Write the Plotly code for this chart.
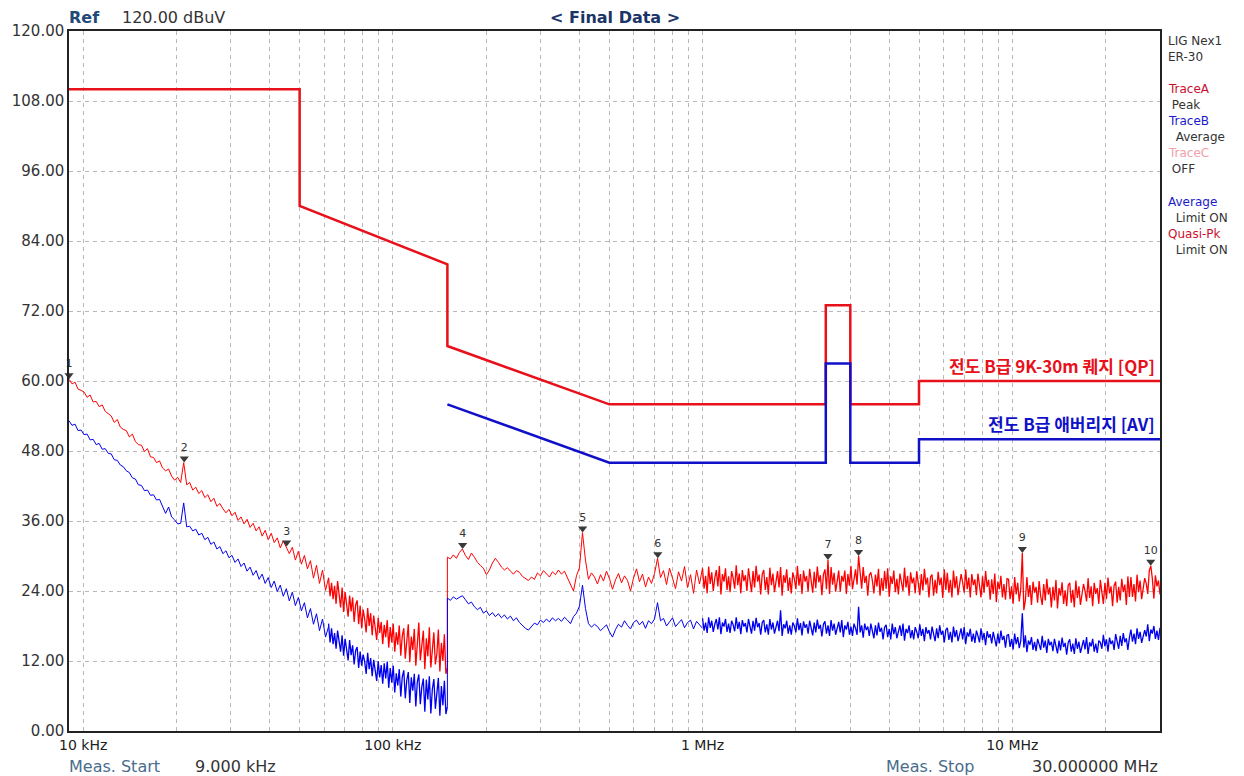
import numpy as np
import plotly.graph_objects as go

# ---------------- data ----------------
# Four sweep segments (band edges in Hz); each trace's readings are listed per segment.
band_edges = [9e3, 62e3, 150e3, 1e6, 30e6]

# Peak trace (TraceA), dBuV
peak_1 = [60.3,59.5,59.8,58.6,58.4,58.1,57.2,57.6,56.4,56.5,
 55.6,55.9,54.8,54.4,54.0,52.9,53.4,52.1,51.7,51.5,
 50.4,50.9,49.6,49.1,49.0,47.9,48.4,47.0,46.9,46.0,
 46.3,45.1,44.6,44.9,43.7,43.0,43.5,42.6,46.0,42.2,
 42.6,41.3,41.8,40.7,41.2,40.0,40.5,39.3,39.9,38.5,
 39.0,38.1,37.4,38.0,36.9,37.5,36.1,36.7,35.5,36.3,
 34.9,35.6,34.3,35.0,33.4,34.4,32.8,33.9,32.3,33.1,
 31.4,32.6,31.6,30.4,31.5,29.3,30.8,28.6,30.1,27.8,
 29.2,26.2,28.4,25.3,27.6,24.1,26.3]
peak_2 = [26.2,23.1,25.4,22.6,24.9,21.8,25.7,23.4,21.2,24.6,
 20.4,23.8,22.1,19.6,23.2,20.5,22.9,18.7,21.6,22.4,
 18.3,21.5,17.6,20.8,19.2,16.9,21.1,18.0,20.2,16.4,
 19.8,17.2,15.6,19.4,16.8,18.7,14.9,18.2,16.1,19.0,
 14.3,17.8,15.2,18.4,13.6,16.9,14.8,18.1,12.9,16.3,
 17.6,12.4,15.8,18.3,11.8,16.2,13.9,17.5,11.2,15.4,
 18.6,12.1,14.7,17.2,10.6,15.9,12.8,17.8,10.9,14.6,
 16.9,11.4,13.2,17.4,10.2,15.1,12.0,16.6,9.8,10.8]
peak_3 = [29.8,29.5,30.2,29.6,30.6,31.2,30.1,29.4,30.5,29.8,
 28.9,28.4,27.9,26.8,27.6,28.8,29.6,28.9,28.1,27.6,
 28.0,27.4,26.9,27.5,27.2,26.5,26.1,25.8,26.4,26.0,
 27.1,26.6,27.5,27.0,26.4,27.3,26.8,27.6,26.9,27.4,
 26.3,25.2,24.0,26.6,28.0,34.0,29.3,26.0,27.1,26.4,
 25.2,26.8,25.7,27.4,26.1,24.3,25.9,27.0,25.4,26.6,
 25.8,24.0,26.2,27.8,25.6,26.9,24.7,26.4,25.3,27.0,
 29.6,26.3,27.5,25.1,27.9,26.2,24.4,27.3,25.7,28.2,
 24.6,26.8,23.6,27.6,25.2,28.0]
peak_4 = [27.8,24.4,26.6,23.6,28.2,25.2,27.2,24.0,26.2,27.6,
 24.8,28.3,23.4,26.9,25.6,27.9,24.2,26.5,23.8,27.4,
 26.2,24.4,28.4,25.0,27.0,23.6,27.6,25.7,26.7,24.0,
 27.9,25.3,23.8,27.4,24.6,28.3,25.6,26.8,23.4,26.9,
 27.6,24.2,26.4,23.4,28.0,25.0,27.0,23.8,26.0,27.4,
 24.6,28.1,23.2,26.7,25.4,27.7,24.0,26.3,23.6,27.2,
 26.1,24.3,28.3,24.9,26.9,23.5,27.5,25.6,26.6,23.9,
 27.8,25.2,23.7,27.3,24.5,28.2,25.5,26.7,23.3,26.8,
 27.7,24.3,29.3,23.5,28.1,25.1,27.1,23.9,26.1,27.5,
 23.9,26.6,25.6,27.5,23.5,26.9,24.9,28.3,24.3,26.1,
 27.7,25.1,30.0,27.2,24.4,28.1,25.4,26.6,23.2,26.7,
 27.2,25.8,23.6,26.8,24.8,27.8,23.2,26.2,24.0,27.4,
 24.4,27.9,23.0,26.5,25.2,27.5,23.8,26.1,23.4,27.0,
 25.8,24.0,28.0,24.6,26.6,23.2,27.2,25.3,26.3,23.6,
 27.4,24.8,23.3,26.9,24.1,27.8,25.1,26.3,22.9,26.4,
 26.8,23.2,25.9,23.6,27.3,25.0,26.3,22.8,27.7,24.2,
 27.1,23.7,25.9,22.9,27.5,24.5,26.5,23.3,25.5,26.9,
 25.5,23.7,27.7,24.3,26.3,22.9,26.9,25.0,26.0,23.3,
 27.0,24.4,22.9,26.5,23.7,27.4,24.7,25.9,22.5,26.0,
 23.5,27.0,22.1,25.6,24.3,26.6,22.9,25.2,22.5,26.1,
 26.0,22.6,24.8,21.8,26.4,23.4,25.4,22.2,24.4,30.5,
 20.7,22.4,26.4,23.0,25.0,21.6,25.6,23.7,24.7,22.0,
 25.7,23.1,21.6,25.2,22.4,26.1,23.4,24.6,21.2,24.7,
 22.4,25.9,21.0,24.5,23.2,25.5,21.8,24.1,21.4,25.0,
 25.4,22.0,24.2,21.2,25.8,22.8,24.8,21.6,23.8,25.2,
 24.0,22.2,26.2,22.8,24.8,21.4,25.4,23.5,24.5,21.8,
 25.9,23.3,21.8,25.4,22.6,26.3,23.6,24.8,21.4,24.9,
 25.6,22.0,24.7,22.4,26.1,23.8,25.1,21.6,26.5,23.0,
 26.4,23.0,25.2,22.2,26.8,23.8,25.8,22.6,24.8,26.2,
 25.3,23.5,27.5,28.3,26.1,22.7,26.7,24.8,25.8,23.4]

# Average trace (TraceB), dBuV
avg_1 = [53.2,52.4,52.6,51.5,51.6,50.8,50.9,49.9,50.0,49.1,
 49.3,48.3,48.4,47.6,47.5,46.5,46.4,45.6,45.3,44.6,
 44.3,43.4,43.2,42.2,42.1,41.2,41.3,40.4,40.5,39.6,
 39.7,38.6,37.3,38.4,36.7,36.2,35.5,35.6,39.1,35.0,
 35.1,34.3,34.6,33.6,33.9,32.8,33.2,32.0,32.4,31.2,
 31.6,30.4,30.9,29.7,30.1,28.9,29.5,28.2,28.8,27.4,
 28.1,26.7,27.5,26.0,26.9,25.3,26.3,24.6,25.7,23.9,
 25.0,23.1,24.4,22.3,23.8,21.5,22.9,20.6,22.0,19.4,
 21.0,18.3,20.1,17.2,19.2,16.1,17.9]
avg_2 = [18.4,15.2,17.6,14.9,16.8,14.1,17.2,15.5,13.6,16.4,
 12.9,15.8,14.2,12.1,15.6,13.0,14.7,11.4,13.8,14.4,
 10.8,13.6,11.2,13.1,11.9,9.8,13.4,10.6,12.5,9.4,
 12.2,9.9,8.6,12.0,9.2,11.3,8.1,11.6,9.0,11.9,
 7.4,10.8,8.3,11.2,6.6,9.9,7.8,10.6,5.9,9.3,
 10.4,5.6,8.7,10.1,4.8,9.2,6.9,9.8,4.2,8.4,
 9.7,4.6,7.6,9.0,3.3,8.8,5.4,9.4,3.0,7.2,
 8.9,3.8,6.3,9.1,2.6,7.7,4.4,8.6,2.9,4.2]
avg_3 = [22.8,22.4,23.0,22.6,22.9,23.2,22.5,21.8,22.1,21.3,
 20.8,21.2,20.2,20.6,19.8,20.3,19.6,20.1,19.4,19.9,
 19.2,19.7,18.9,19.4,18.6,18.1,17.6,17.3,17.9,18.5,
 18.2,19.0,18.6,19.2,18.7,19.4,18.9,19.3,18.8,19.5,
 19.0,18.4,19.6,20.2,21.4,25.0,21.0,18.4,17.8,18.3,
 17.9,17.2,17.7,18.2,17.0,16.1,17.4,18.3,17.8,18.9,
 18.1,17.5,18.6,19.0,18.2,18.8,17.6,18.9,18.4,19.2,
 22.0,18.9,19.3,18.0,18.7,19.4,17.9,18.5,19.1,17.7,
 18.6,19.0,17.5,18.8,18.2,17.6]
avg_4 = [19.3,17.2,18.6,16.8,19.5,17.7,18.9,17.0,18.3,19.2,
 17.4,19.5,16.6,18.6,17.9,19.2,17.0,18.4,16.8,18.9,
 18.2,17.1,19.5,17.5,18.7,16.6,19.0,17.9,18.5,16.9,
 19.2,17.6,16.7,18.9,17.2,19.4,17.8,18.5,16.5,18.6,
 19.0,16.9,18.3,16.5,19.2,17.4,18.6,16.7,18.0,18.9,
 17.1,20.7,16.3,18.3,17.6,18.9,16.7,18.1,16.5,18.6,
 18.0,16.9,19.3,17.3,18.5,16.4,18.8,17.7,18.3,16.7,
 18.9,17.3,16.4,18.6,16.9,19.1,17.5,18.2,16.2,18.3,
 18.8,16.7,18.1,16.3,19.0,17.2,18.4,16.5,17.8,18.7,
 16.9,19.0,16.1,18.1,17.4,18.7,16.5,17.9,16.3,18.4,
 17.6,16.5,21.3,16.9,18.1,16.0,18.4,17.3,17.9,16.3,
 18.4,16.8,15.9,18.1,16.4,18.6,17.0,17.7,15.7,17.8,
 18.2,16.1,17.5,15.7,18.4,16.6,17.8,15.9,17.2,18.1,
 16.3,18.4,15.5,17.5,16.8,18.1,15.9,17.3,15.7,17.8,
 17.0,15.9,18.3,16.3,17.5,15.4,17.8,16.7,17.3,15.7,
 17.9,16.3,15.4,17.6,15.9,18.1,16.5,17.2,15.2,17.3,
 17.7,15.6,17.0,15.2,17.9,16.1,17.3,15.4,16.7,17.6,
 15.7,17.8,14.9,16.9,16.2,17.5,15.3,16.7,15.1,17.2,
 16.3,15.2,17.6,15.6,16.8,14.7,17.1,16.0,16.6,15.0,
 17.0,15.4,14.5,16.7,15.0,17.2,15.6,16.3,14.3,16.4,
 16.5,14.4,15.8,14.0,16.7,14.9,16.1,14.2,15.5,20.2,
 14.3,16.4,13.5,15.5,14.8,16.1,13.9,15.3,13.7,15.8,
 15.0,13.9,16.3,14.3,15.5,13.4,15.8,14.7,15.3,13.7,
 15.8,14.2,13.3,15.5,13.8,16.0,14.4,15.1,13.1,15.2,
 15.7,13.6,15.0,13.2,15.9,14.1,15.3,13.4,14.7,15.6,
 14.0,16.1,13.2,15.2,14.5,15.8,13.6,15.0,13.4,15.5,
 15.2,14.1,16.5,14.5,15.7,13.6,16.0,14.9,15.5,13.9,
 16.6,15.0,14.1,16.3,14.6,16.8,15.2,15.9,13.9,16.0,
 17.4,15.3,16.7,14.9,17.6,15.8,17.0,15.1,16.4,17.3,
 16.2,18.3,15.4,17.4,16.7,18.0,15.8,17.2,15.6,17.7]

# limit lines (frequency in Hz, level in dBuV)
qp_freq = [9e3, 50e3, 50e3, 150e3, 150e3, 500e3, 2.5e6, 2.5e6, 3e6, 3e6, 5e6, 5e6, 30e6]
qp_level = [110, 110, 90, 80, 66, 56, 56, 73, 73, 56, 56, 60, 60]
av_freq = [150e3, 500e3, 2.5e6, 2.5e6, 3e6, 3e6, 5e6, 5e6, 30e6]
av_level = [56, 46, 46, 63, 63, 46, 46, 50, 50]

# markers
marker_freq = [9.0e3, 21.2e3, 45.4e3, 168e3, 410e3, 717e3, 2.54e6, 3.19e6, 10.78e6, 28.0e6]
marker_level = [60.3, 46.0, 31.6, 31.2, 34.0, 29.6, 29.3, 30.0, 30.5, 28.3]
marker_label = ["1", "2", "3", "4", "5", "6", "7", "8", "9", "10"]

y_ticks = [0, 12, 24, 36, 48, 60, 72, 84, 96, 108, 120]
x_major = [1e4, 1e5, 1e6, 1e7]
x_major_text = ["10 kHz", "100 kHz", "1 MHz", "10 MHz"]

# ---------------- figure ----------------
L, R, T, B = 69, 1160, 31, 731
W, H = 1244, 776
def px(x):
    return (x - L) / (R - L)
def py(y):
    return 1 - (y - T) / (B - T)

fig = go.Figure()
peak_segs = [peak_1, peak_2, peak_3, peak_4]
avg_segs = [avg_1, avg_2, avg_3, avg_4]
seg_width = [1.0, 1.3, 1.0, 1.3]
for segs, color in [(peak_segs, "#ff0000"), (avg_segs, "#0000f0")]:
    for k, vals in enumerate(segs):
        f = np.geomspace(band_edges[k], band_edges[k + 1], len(vals))
        if k == 2:  # connect the step at 150 kHz to the previous sweep
            f = np.concatenate([[band_edges[2]], f])
            vals = [segs[1][-1]] + vals
        fig.add_trace(go.Scatter(x=f, y=vals, mode="lines",
                                 line=dict(color=color, width=seg_width[k])))

fig.add_trace(go.Scatter(x=qp_freq, y=qp_level, mode="lines",
                         line=dict(color="#e8101a", width=2.5), name="QP limit"))
fig.add_trace(go.Scatter(x=av_freq, y=av_level, mode="lines",
                         line=dict(color="#1010c8", width=2.5), name="AV limit"))
fig.add_trace(go.Scatter(x=marker_freq, y=[v + 0.7 for v in marker_level], mode="markers",
                         marker=dict(symbol="triangle-down", size=8, color="#3a3a3a"),
                         cliponaxis=False, name="markers"))
fig.add_trace(go.Scatter(x=marker_freq, y=[v + 2.5 for v in marker_level], mode="text",
                         text=marker_label, textposition="middle center",
                         textfont=dict(family="DejaVu Sans", size=11, color="#333333"),
                         cliponaxis=False, name="marker labels"))

grid_vals = []
for dec in [1e4, 1e5, 1e6, 1e7]:
    for m in range(1, 10):
        v = dec * m
        if v <= 30e6:
            grid_vals.append(v)
grid_text = [x_major_text[x_major.index(v)] if v in x_major else "" for v in grid_vals]

fig.update_xaxes(type="log", range=[np.log10(9e3), np.log10(30e6)],
                 tickvals=grid_vals, ticktext=grid_text, ticks="",
                 showgrid=True, gridcolor="#b8b8b8", griddash="4px,4px", gridwidth=1,
                 showline=True, linecolor="#222222", linewidth=1.5, mirror=True,
                 zeroline=False,
                 tickfont=dict(family="DejaVu Sans", size=14, color="#222222"))
fig.update_yaxes(range=[0, 120], tickvals=y_ticks, tickformat=".2f", ticks="",
                 showgrid=True, gridcolor="#b8b8b8", griddash="4px,4px", gridwidth=1,
                 showline=True, linecolor="#222222", linewidth=1.5, mirror=True,
                 zeroline=False,
                 tickfont=dict(family="DejaVu Sans", size=15, color="#333333"))

ann = []
def txt(x, y, s, color="#333333", size=14, bold=False, xanchor="left", family="DejaVu Sans"):
    ann.append(dict(x=px(x), y=py(y), xref="paper", yref="paper", text=("<b>%s</b>" % s) if bold else s,
                    showarrow=False, xanchor=xanchor, yanchor="middle",
                    font=dict(family=family, size=size, color=color)))

txt(67, 18, "Ref", color="#1f4a78", size=16, bold=True)
txt(120, 18, "120.00 dBuV", color="#333333", size=16)
txt(615, 18, "&lt; Final Data &gt;", color="#1a3566", size=16, bold=True, xanchor="center")
txt(67, 766, "Meas. Start", color="#4a6d8c", size=16)
txt(193, 766, "9.000 kHz", color="#333333", size=16)
txt(884, 766, "Meas. Stop", color="#4a6d8c", size=16)
txt(1160, 766, "30.000000 MHz", color="#333333", size=16, xanchor="right")

panel = [("LIG Nex1", "#333333", 41), ("ER-30", "#333333", 57),
         ("TraceA", "#c8102e", 89), ("&nbsp;Peak", "#333333", 105),
         ("TraceB", "#1a1acc", 121), ("&nbsp;&nbsp;Average", "#333333", 137),
         ("TraceC", "#f0a0a8", 153), ("&nbsp;OFF", "#333333", 169),
         ("Average", "#1a1acc", 202), ("&nbsp;&nbsp;Limit ON", "#333333", 218),
         ("Quasi-Pk", "#c8102e", 234), ("&nbsp;&nbsp;Limit ON", "#333333", 250)]
for s, c, y in panel:
    txt(1166, y, s, color=c, size=12)

ann.append(dict(x=np.log10(30e6), y=qp_level[-1], xref="x", yref="y", text="<b>전도 B급 9K-30m 퀘지 [QP]</b>",
                showarrow=False, xanchor="right", yanchor="bottom", yshift=1, xshift=-3,
                font=dict(family="Noto Sans CJK KR", size=17, color="#e8101a")))
ann.append(dict(x=np.log10(30e6), y=av_level[-1], xref="x", yref="y", text="<b>전도 B급 애버리지 [AV]</b>",
                showarrow=False, xanchor="right", yanchor="bottom", yshift=1, xshift=-3,
                font=dict(family="Noto Sans CJK KR", size=17, color="#1010c8")))

fig.update_layout(width=W, height=H, margin=dict(l=L, r=W - R, t=T, b=H - B),
                  paper_bgcolor="white", plot_bgcolor="white", showlegend=False,
                  annotations=ann)
fig.write_html("out.html")
